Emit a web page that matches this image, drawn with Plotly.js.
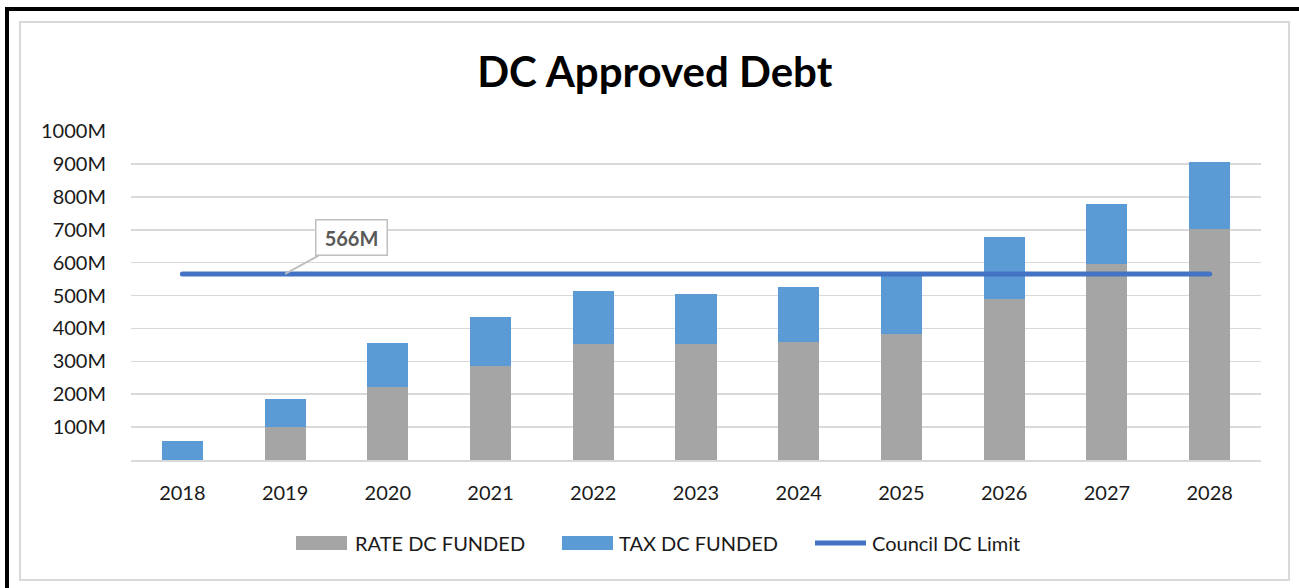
<!DOCTYPE html>
<html>
<head>
<meta charset="utf-8">
<script src="https://cdn.plot.ly/plotly-3.0.1.min.js"></script>
<style>
  html, body { margin: 0; padding: 0; background: #ffffff; }
  #chart { width: 1299px; height: 588px; }
  .js-line { stroke-linecap: round; }
</style>
</head>
<body>
<div id="chart"></div>
<script>
// ---- data ----
const years = ['2018', '2019', '2020', '2021', '2022', '2023', '2024', '2025', '2026', '2027', '2028'];
const rateDC = [0, 101, 222, 286, 353, 353, 359, 383, 489, 596, 701];
const taxDC = [59, 84, 135, 149, 161, 152, 167, 185, 189, 181, 205];
const councilLimit = [566, 566, 566, 566, 566, 566, 566, 566, 566, 566, 566];
const yTickVals = [0, 100, 200, 300, 400, 500, 600, 700, 800, 900, 1000];
const yTickText = ['', '100M', '200M', '300M', '400M', '500M', '600M', '700M', '800M', '900M', '1000M'];
const limitLabel = '566M';
const limitLabelYear = '2019';
const seriesNames = ['RATE DC FUNDED', 'TAX DC FUNDED', 'Council DC Limit'];
const seriesColors = ['#A5A5A5', '#5B9BD5', '#4472C4'];

const FONT = 'Lato, "Open Sans", sans-serif';

const traces = [
  {
    type: 'bar', name: seriesNames[0], x: years, y: rateDC,
    marker: { color: seriesColors[0] }, hoverinfo: 'skip'
  },
  {
    type: 'bar', name: seriesNames[1], x: years, y: taxDC,
    marker: { color: seriesColors[1] }, hoverinfo: 'skip'
  },
  {
    type: 'scatter', mode: 'lines', name: seriesNames[2], x: years, y: councilLimit,
    line: { color: seriesColors[2], width: 5 }, hoverinfo: 'skip'
  }
];

// plot area: x 131..1261, y 131..460
const W = 1299, H = 588, L = 131, R = 38, T = 131, B = 128;
const PW = W - L - R, PH = H - T - B;
const px = v => (v - L) / PW;
const py = v => (H - B - v) / PH;

const legendY = 543;
const legendShapes = [
  { type: 'rect', xref: 'paper', yref: 'paper', x0: px(296), x1: px(347), y0: py(550), y1: py(536),
    fillcolor: seriesColors[0], line: { width: 0 } },
  { type: 'rect', xref: 'paper', yref: 'paper', x0: px(562), x1: px(613), y0: py(550), y1: py(536),
    fillcolor: seriesColors[1], line: { width: 0 } },
  { type: 'line', xref: 'paper', yref: 'paper', x0: px(815), x1: px(866), y0: py(legendY), y1: py(legendY),
    line: { color: seriesColors[2], width: 5 } }
];
const legendTextX = [353, 617, 870];
const legendAnns = seriesNames.map((n, i) => ({
  xref: 'paper', yref: 'paper', x: px(legendTextX[i]), y: py(legendY),
  xanchor: 'left', yanchor: 'middle', showarrow: false, text: n,
  font: { family: FONT, size: 20, color: '#1a1a1a' }
}));

const layout = {
  width: W, height: H,
  margin: { l: L, r: R, t: T, b: B, pad: 0 },
  paper_bgcolor: '#ffffff', plot_bgcolor: '#ffffff',
  barmode: 'stack', bargap: 0.6,
  showlegend: false,
  font: { family: FONT, size: 20, color: '#1a1a1a' },
  title: {
    text: '<b>DC Approved Debt</b>',
    font: { family: FONT, size: 42, color: '#000000' },
    xref: 'container', x: 0.504, xanchor: 'center',
    yref: 'container', y: 1 - 72 / H, yanchor: 'middle'
  },
  xaxis: {
    type: 'category', categoryorder: 'array', categoryarray: years,
    range: [-0.5, years.length - 0.5], autorange: false,
    showgrid: false, zeroline: false,
    showline: true, linecolor: '#D9D9D9', linewidth: 1.5,
    ticks: 'outside', ticklen: 14, tickcolor: 'rgba(0,0,0,0)',
    tickfont: { family: FONT, size: 20, color: '#1a1a1a' }
  },
  yaxis: {
    range: [0, 1000.5], autorange: false,
    tickmode: 'array', tickvals: yTickVals, ticktext: yTickText,
    showgrid: true, gridcolor: '#D9D9D9', gridwidth: 1.5, zeroline: false,
    showline: false,
    ticks: 'outside', ticklen: 20, tickcolor: 'rgba(0,0,0,0)',
    tickfont: { family: FONT, size: 20, color: '#1a1a1a' }
  },
  annotations: [
    {
      x: years.indexOf(limitLabelYear), y: councilLimit[years.indexOf(limitLabelYear)],
      xref: 'x', yref: 'y',
      text: '<b>' + limitLabel + '</b>',
      font: { family: FONT, size: 20, color: '#595959' },
      showarrow: true, arrowhead: 0, arrowwidth: 2, arrowcolor: '#BFBFBF',
      ax: 66, ay: -36,
      bgcolor: '#ffffff', bordercolor: '#BFBFBF', borderwidth: 1.5,
      width: 66, height: 30, borderpad: 2
    }
  ].concat(legendAnns),
  shapes: [
    { type: 'rect', xref: 'paper', yref: 'paper',
      x0: px(20), x1: px(1289), y0: py(580), y1: py(22),
      line: { color: '#D9D9D9', width: 2 }, fillcolor: 'rgba(0,0,0,0)', layer: 'below' },
    { type: 'line', xref: 'paper', yref: 'paper',
      x0: px(5), x1: px(1299), y0: py(9), y1: py(9),
      line: { color: '#000000', width: 4 } },
    { type: 'line', xref: 'paper', yref: 'paper',
      x0: px(7), x1: px(7), y0: py(7), y1: py(588),
      line: { color: '#000000', width: 4 } }
  ].concat(legendShapes)
};

Plotly.newPlot('chart', traces, layout, { displayModeBar: false, staticPlot: true });
</script>
</body>
</html>
